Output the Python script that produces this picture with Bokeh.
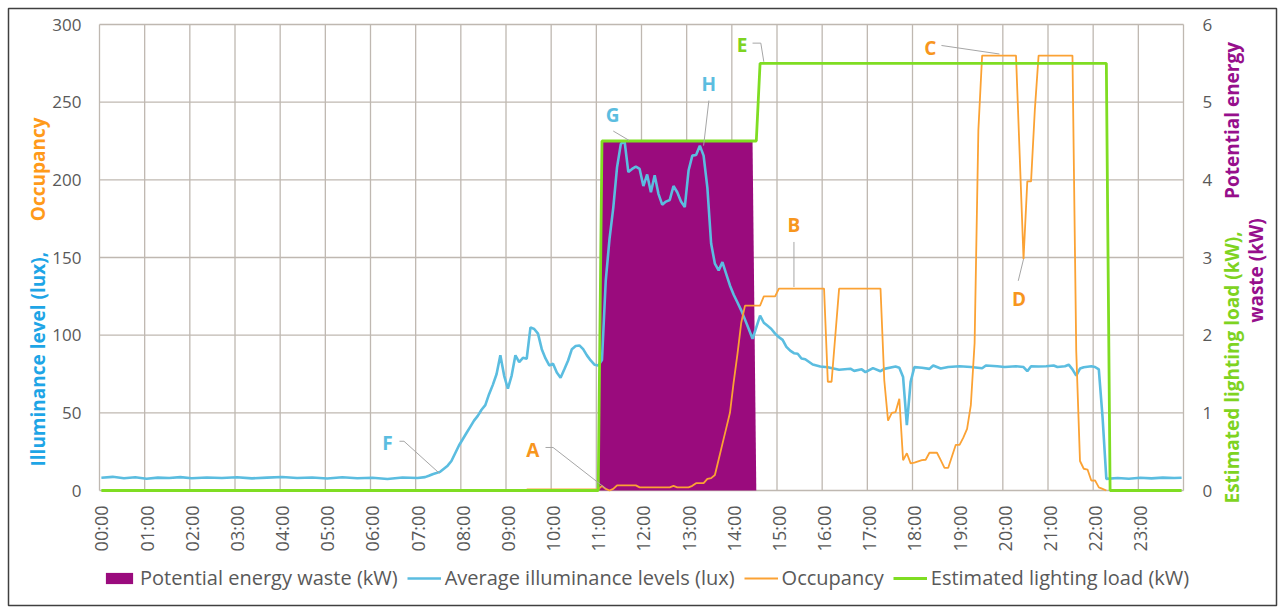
from math import pi
from bokeh.plotting import figure
from bokeh.models import (Range1d, LinearAxis, FixedTicker, Label, Legend,
                          LegendItem, ColumnDataSource)
from bokeh.embed import file_html
from bokeh.resources import INLINE
from bokeh.core.properties import value

# ---------------- data ----------------
hour_labels = ["00:00", "01:00", "02:00", "03:00", "04:00", "05:00", "06:00", "07:00",
               "08:00", "09:00", "10:00", "11:00", "12:00", "13:00", "14:00", "15:00",
               "16:00", "17:00", "18:00", "19:00", "20:00", "21:00", "22:00", "23:00"]
left_ticks = [0, 50, 100, 150, 200, 250, 300]
right_ticks = [0, 1, 2, 3, 4, 5, 6]

illum_times = ["00:00", "00:15", "00:30", "00:45", "01:00", "01:15", "01:30", "01:45", "02:00", "02:20",
               "02:40", "03:00", "03:20", "03:40", "04:00", "04:20", "04:40", "05:00", "05:20", "05:40",
               "06:00", "06:20", "06:40", "07:00", "07:10", "07:15", "07:20", "07:25", "07:30", "07:35",
               "07:40", "07:45", "07:50", "07:55", "08:00", "08:05", "08:10", "08:15", "08:20", "08:25",
               "08:30", "08:35", "08:40", "08:45", "08:50", "08:55", "09:00", "09:05", "09:10", "09:15",
               "09:20", "09:25", "09:30", "09:35", "09:40", "09:45", "09:50", "09:55", "10:00", "10:05",
               "10:10", "10:15", "10:20", "10:25", "10:30", "10:35", "10:40", "10:45", "10:50", "10:55",
               "11:00", "11:05", "11:10", "11:15", "11:20", "11:25", "11:30", "11:35", "11:40", "11:45",
               "11:50", "11:55", "12:00", "12:05", "12:10", "12:15", "12:20", "12:25", "12:30", "12:35",
               "12:40", "12:45", "12:50", "12:55", "13:00", "13:05", "13:10", "13:15", "13:20", "13:25",
               "13:30", "13:35", "13:40", "13:45", "13:50", "13:55", "14:00", "14:05", "14:10", "14:15",
               "14:20", "14:25", "14:30", "14:35", "14:40", "14:45", "14:50", "14:55", "15:00", "15:05",
               "15:10", "15:15", "15:20", "15:25", "15:30", "15:35", "15:45", "15:55", "16:05", "16:20",
               "16:35", "16:40", "16:50", "16:55", "17:05", "17:15", "17:20", "17:35", "17:40", "17:45",
               "17:50", "17:55", "18:00", "18:10", "18:20", "18:25", "18:35", "18:45", "19:00", "19:15",
               "19:30", "19:35", "19:50", "20:00", "20:15", "20:25", "20:30", "20:35", "20:45", "20:55",
               "21:05", "21:10", "21:20", "21:25", "21:30", "21:35", "21:40", "21:45", "21:55", "22:00",
               "22:05", "22:10", "22:15", "22:30", "22:45", "23:00", "23:15", "23:30", "23:45", "23:55"]
illum_lux = [8.2, 8.8, 7.9, 8.5, 7.6, 8.3, 8.0, 8.6, 7.9, 8.4,
             8.0, 8.5, 7.8, 8.3, 8.7, 8.0, 8.4, 7.7, 8.5, 7.9,
             8.2, 7.4, 8.4, 8.0, 8.6, 9.5, 10.5, 11.2, 12, 14,
             16, 19, 24, 29, 33, 37, 41, 45, 48, 52,
             55, 62, 68, 75, 87, 74, 65.5, 74, 87, 82.6,
             85.4, 84.8, 105, 104, 101, 91, 85, 80.5, 81.6, 76,
             72.6, 78, 83.7, 91, 93, 93.4, 91, 87, 83.7, 81,
             80.5, 84, 135, 162, 182, 208, 223, 225, 205, 207,
             208.5, 207, 196, 203.5, 192, 203, 191, 184, 186, 187,
             196, 192, 186, 182.5, 206, 215.6, 216, 222, 215.6, 195,
             159, 146, 141.7, 147, 139.5, 132, 126, 121, 116, 110,
             104, 97.7, 105, 112.6, 108, 106, 104, 101, 98.7, 97,
             92.5, 90, 88.4, 88, 85, 84.5, 81.1, 79.8, 79.3, 77.7,
             78.4, 77, 78, 76.2, 78.8, 76.8, 78.3, 79.8, 79, 73,
             42, 70, 79.4, 79, 78.3, 80.5, 78.5, 79.5, 80, 79.5,
             78.7, 80.5, 80, 79.5, 80, 79.5, 76.8, 80, 79.8, 80,
             80.5, 79.5, 80, 81, 78, 74, 78.5, 79.4, 80, 79.5,
             78, 47, 7.5, 8.0, 7.6, 8.2, 7.8, 8.3, 8.0, 8.2]

occ_times = ["09:25", "11:00", "11:05", "11:10", "11:15", "11:20", "11:25", "11:50", "11:55", "12:35",
             "12:40", "12:45", "13:00", "13:05", "13:10", "13:20", "13:25", "13:30", "13:35", "13:40",
             "13:45", "13:50", "13:55", "14:00", "14:05", "14:10", "14:15", "14:35", "14:40", "14:55",
             "15:00", "16:00", "16:05", "16:10", "16:20", "17:15", "17:20", "17:25", "17:30", "17:35",
             "17:40", "17:45", "17:50", "17:55", "18:00", "18:10", "18:15", "18:20", "18:30", "18:35",
             "18:40", "18:45", "18:50", "18:55", "19:00", "19:05", "19:10", "19:15", "19:20", "19:25",
             "19:30", "20:15", "20:25", "20:30", "20:35", "20:40", "20:45", "21:30", "21:35", "21:40",
             "21:45", "21:50", "21:55", "22:00", "22:05", "22:10", "22:15"]
occ_vals = [0.7, 0.7, 3, 1, 0, 1, 3.3, 3.3, 2, 2,
            3, 2, 2, 3, 4.7, 4.7, 7.5, 8, 10, 20,
            30, 40, 50, 70, 88, 108, 119, 119, 125, 125,
            130, 130, 70, 70, 130, 130, 71, 45, 50, 50.5,
            59, 19.5, 24, 17.5, 18, 19.5, 19.8, 24.3, 24.3, 19.5,
            14.6, 14.6, 22, 29.4, 29.4, 34, 39.7, 55, 95, 232,
            280, 280, 149, 199, 199, 245, 280, 280, 90, 19,
            14, 13.5, 6.4, 6.5, 2, 1, 0]

load_times = ["00:00", "11:00", "11:05", "14:30", "14:35", "22:15", "22:20", "23:55"]
load_kw = [0, 0, 4.5, 4.5, 5.5, 5.5, 0, 0]

waste_times = ["11:00", "11:05", "14:25", "14:30"]
waste_kw = [0, 4.5, 4.5, 0]

ann_text = ["A", "B", "C", "D", "E", "F", "G", "H"]
ann_time = ["09:33", "15:20", "18:21", "20:19", "14:11", "06:20", "11:19", "13:27"]
ann_value = [26, 171, 285, 123, 287, 30.5, 241.5, 262]
ann_color = ["#F7961E", "#F7961E", "#F7961E", "#F7961E", "#7ED321", "#5BBDE0", "#5BBDE0", "#5BBDE0"]

leader_times = [["09:50", "10:00", "11:10"], ["15:20", "15:20"], ["18:36", "19:53"],
                ["20:18", "20:25"], ["14:25", "14:36", "14:40"], ["06:36", "06:42", "07:29"],
                ["11:20", "11:41"], ["13:27", "13:20"]]
leader_values = [[27.7, 27.7, 1.3], [160, 131], [286.5, 281], [135, 149], [288, 288, 276],
                 [31.7, 31.7, 11.1], [231.4, 225.4], [251, 222]]


def idx(t):
    h, m = t.split(":")
    return (int(h) * 60 + int(m)) / 5.0


# ---------------- layout constants (page pixels) ----------------
W, H = 1283, 612
BOX_L, BOX_T, BOX_R, BOX_B = 8, 8, 1276, 605          # outer chart border
PA_L, PA_R, PA_T, PA_B = 99, 1183, 24, 490            # plotting area
N_CAT = 288
PXI = (PA_R - PA_L) / N_CAT                           # px per 5-min category
PXU = (PA_B - PA_T) / 300.0                           # px per lux


def page_to_data(px, py):
    return (px - PA_L) / PXI - 0.5, (PA_B - py) / PXU


x0, y_top = page_to_data(BOX_L, BOX_T)
x1, y_bot = page_to_data(BOX_R, BOX_B)

BLUE = "#5BBDE0"
ORANGE = "#FBA234"
GREEN = "#7FDD22"
PURPLE = "#9A0B7D"
GRID = "#BFB8B1"
TXT = "#595959"
FONT = "Open Sans"

p = figure(width=W, height=H, x_range=Range1d(x0, x1), y_range=Range1d(y_bot, y_top),
           output_backend="svg", toolbar_location=None,
           min_border_left=BOX_L, min_border_right=W - BOX_R,
           min_border_top=BOX_T, min_border_bottom=H - BOX_B)
p.extra_y_ranges = {"kw": Range1d(y_bot / 50.0, y_top / 50.0)}
p.outline_line_color = "#404040"
p.outline_line_width = 1.5
p.background_fill_color = "white"
p.border_fill_color = "white"
p.xgrid.visible = False
p.ygrid.visible = False

# axes, pinned to the plotting area
xa = p.xaxis[0]
xa.ticker = FixedTicker(ticks=[12 * i for i in range(len(hour_labels))])
xa.major_label_overrides = {12 * i: lab for i, lab in enumerate(hour_labels)}
xa.major_label_orientation = pi / 2
xa.fixed_location = 0
ya = p.yaxis[0]
ya.ticker = FixedTicker(ticks=left_ticks)
ya.fixed_location = -0.5
ra = LinearAxis(y_range_name="kw", ticker=FixedTicker(ticks=right_ticks),
                fixed_location=N_CAT - 0.5)
p.add_layout(ra, "right")
for ax, st, fs in ((xa, 15, "18px"), (ya, 18, "17px"), (ra, 19, "17px")):
    ax.axis_line_color = None
    ax.major_tick_line_color = None
    ax.minor_tick_line_color = None
    ax.major_tick_out = 0
    ax.major_label_standoff = st
    ax.major_label_text_font = FONT
    ax.major_label_text_font_size = fs
    ax.major_label_text_color = TXT

# gridlines of the plotting area
vg = [12 * i - 0.5 for i in range(len(hour_labels) + 1)]
p.segment(x0=vg, x1=vg, y0=[0] * len(vg), y1=[300] * len(vg),
          line_color=GRID, line_width=1.3)
p.segment(x0=[-0.5] * len(left_ticks), x1=[N_CAT - 0.5] * len(left_ticks),
          y0=left_ticks, y1=left_ticks, line_color=GRID, line_width=1.3)

# series
r_waste = p.varea(x=[idx(t) for t in waste_times], y1=[0] * len(waste_kw), y2=waste_kw,
                  y_range_name="kw", fill_color=PURPLE)
r_illum = p.line([idx(t) for t in illum_times], illum_lux, line_color=BLUE, line_width=2.6)
r_occ = p.line([idx(t) for t in occ_times], occ_vals, line_color=ORANGE, line_width=1.8)
r_load = p.line([idx(t) for t in load_times], load_kw, y_range_name="kw",
                line_color=GREEN, line_width=2.8)

# leader lines and annotation letters
p.multi_line(xs=[[idx(t) for t in ts] for ts in leader_times], ys=leader_values,
             line_color="#A6A6A6", line_width=1)
ann_src = ColumnDataSource(dict(x=[idx(t) for t in ann_time], y=ann_value,
                                text=ann_text, color=ann_color))
p.text(x="x", y="y", text="text", text_color="color", source=ann_src,
       text_font=value(FONT), text_font_style="bold", text_font_size="19px",
       text_align="center", text_baseline="middle")


# axis titles (multi-coloured)
def title(txt, px, py, color, align):
    x, y = page_to_data(px, py)
    p.add_layout(Label(x=x, y=y, text=txt, angle=pi / 2, text_color=color,
                       text_font=FONT, text_font_style="bold", text_font_size="19px",
                       text_align=align, text_baseline="middle"))


title("Illuminance level (lux),", 37.5, 466, "#1EA5E6", "left")
title("Occupancy", 37.5, 117, "#FF9A1A", "right")
title("Estimated lighting load (kW),", 1231, 503, "#7ED321", "left")
title("Potential energy", 1231, 120, "#960F8C", "center")
title("waste (kW)", 1255, 270, "#960F8C", "center")

# legend
legend = Legend(items=[LegendItem(label="Potential energy waste (kW)", renderers=[r_waste]),
                       LegendItem(label="Average illuminance levels (lux)", renderers=[r_illum]),
                       LegendItem(label="Occupancy", renderers=[r_occ]),
                       LegendItem(label="Estimated lighting load (kW)", renderers=[r_load])],
                orientation="horizontal", location=(94, 14), padding=0, margin=0,
                spacing=9, label_standoff=4, glyph_width=34, glyph_height=14,
                label_text_font=FONT, label_text_font_size="20px", label_text_color=TXT,
                border_line_color=None, background_fill_alpha=0)
p.add_layout(legend)

open("out.html", "w").write(file_html(p, INLINE))
